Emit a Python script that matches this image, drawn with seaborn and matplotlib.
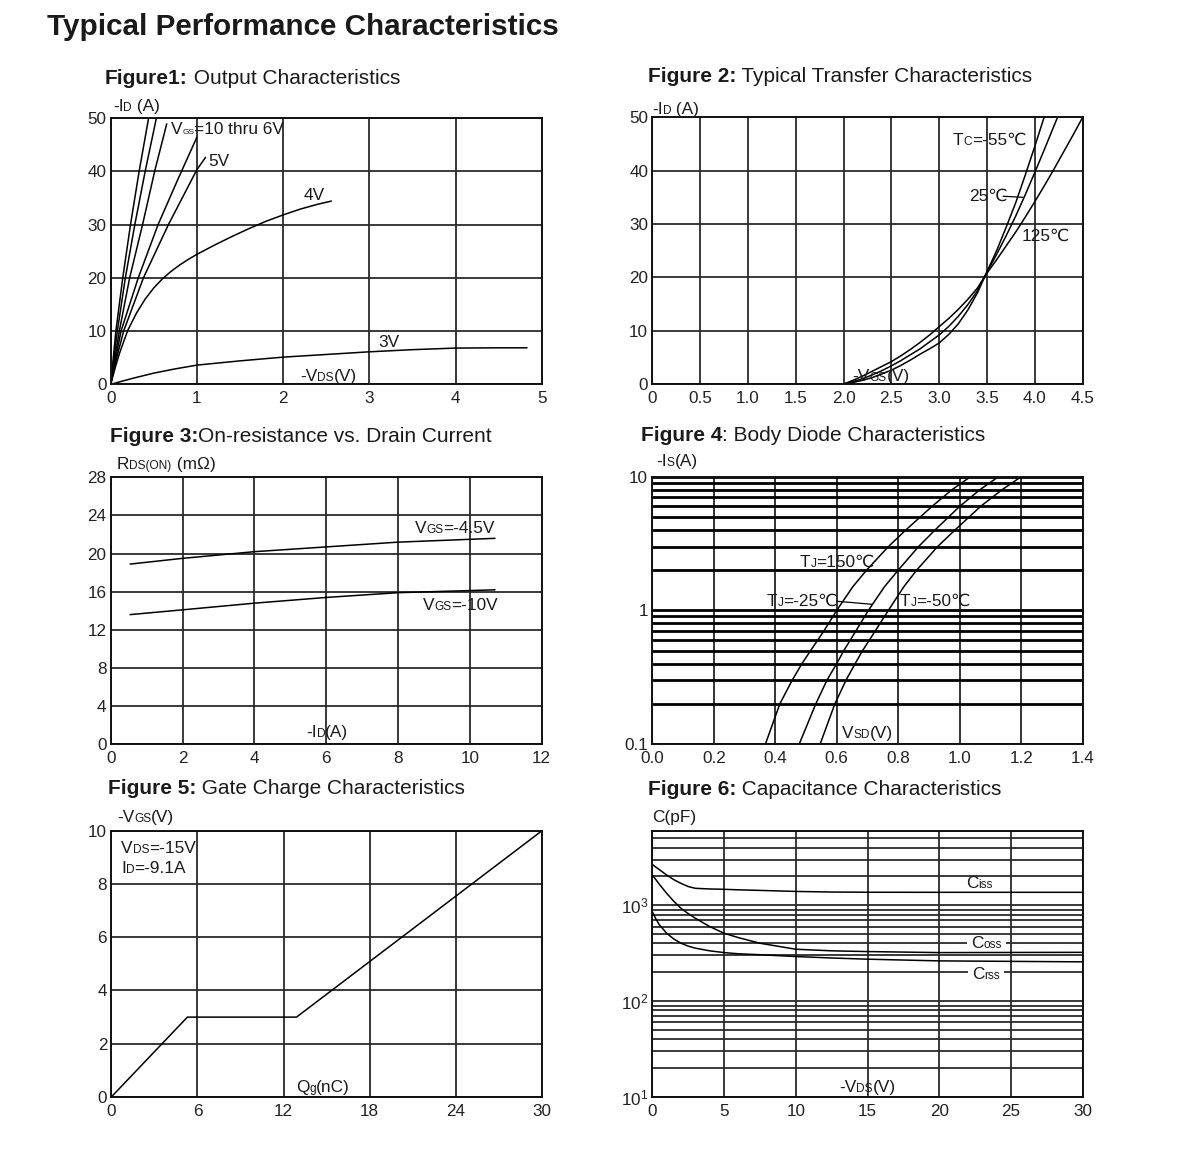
import numpy as np
import pandas as pd
import matplotlib
matplotlib.use("Agg")
import matplotlib.pyplot as plt
from matplotlib.transforms import IdentityTransform
from matplotlib.ticker import LogLocator, NullFormatter
from matplotlib.patches import Rectangle
import seaborn as sns

# ---------------- data ----------------
# Figure 1: output characteristics (-VDS, -ID) per VGS
f1_vgs = ["10V", "8V", "7V", "6V", "5V", "4V", "3V"]
f1_vds = {
    "10V": [0, 0.06, 0.14, 0.23, 0.33, 0.44],
    "8V": [0, 0.077, 0.17, 0.28, 0.40, 0.53],
    "7V": [0, 0.10, 0.22, 0.37, 0.51, 0.65],
    "6V": [0, 0.12, 0.32, 0.55, 0.78, 1.0],
    "5V": [0, 0.07, 0.15, 0.38, 0.67, 1.0, 1.1],
    "4V": [0, 0.05, 0.1, 0.15, 0.2, 0.3, 0.4, 0.5, 0.6, 0.7, 0.8, 0.9, 1.0,
           1.2, 1.4, 1.6, 1.8, 2.0, 2.2, 2.4, 2.56],
    "3V": [0, 0.25, 0.5, 0.75, 1.0, 1.5, 2.0, 2.5, 3.0, 3.5, 4.0, 4.5, 4.83],
}
f1_id = {
    "10V": [0, 10, 20, 30, 40, 50],
    "8V": [0, 10, 20, 30, 40, 50],
    "7V": [0, 10, 20, 30, 40, 48.9],
    "6V": [0, 10, 20, 30, 38.5, 46.4],
    "5V": [0, 5, 10, 20, 30, 40.3, 42.6],
    "4V": [0, 3.0, 5.7, 8.0, 10.2, 13.4, 16.0, 18.1, 19.8, 21.2, 22.4, 23.45, 24.4,
           26.1, 27.7, 29.2, 30.6, 31.8, 32.9, 33.8, 34.4],
    "3V": [0, 1.1, 2.1, 2.9, 3.6, 4.4, 5.1, 5.6, 6.1, 6.5, 6.8, 6.85, 6.85],
}

# Figure 2: transfer characteristics (-VGS, -ID) per Tc
f2_tc = ["-55", "25", "125"]
f2_vgs = {
    "-55": [0, 2.0, 2.1, 2.2, 2.3, 2.4, 2.5, 2.6, 2.7, 2.8, 2.9, 3.0, 3.1, 3.2, 3.3,
            3.4, 3.48, 3.6, 3.7, 3.8, 3.9, 4.0, 4.1],
    "25": [0, 2.0, 2.1, 2.2, 2.3, 2.4, 2.5, 2.6, 2.7, 2.8, 2.9, 3.0, 3.1, 3.2, 3.3,
           3.4, 3.48, 3.6, 3.7, 3.8, 3.9, 4.0, 4.1, 4.2, 4.26],
    "125": [0, 2.0, 2.1, 2.2, 2.3, 2.4, 2.5, 2.6, 2.7, 2.8, 2.9, 3.0, 3.1, 3.2, 3.3,
            3.4, 3.48, 3.6, 3.7, 3.8, 3.9, 4.0, 4.1, 4.2, 4.3, 4.4, 4.5],
}
f2_id = {
    "-55": [0, 0, 0.3, 0.7, 1.2, 1.9, 2.6, 3.5, 4.5, 5.6, 6.6, 7.7, 9.3, 11.3, 13.9,
            17.1, 20.3, 25.0, 29.4, 34.0, 39.2, 44.6, 50.2],
    "25": [0, 0, 0.45, 1.0, 1.7, 2.5, 3.4, 4.4, 5.5, 6.6, 7.9, 9.2, 10.8, 12.7, 14.9,
           17.5, 20.3, 24.3, 27.8, 31.5, 35.5, 39.7, 44.0, 48.4, 51.0],
    "125": [0, 0, 0.7, 1.5, 2.4, 3.3, 4.2, 5.3, 6.5, 7.8, 9.2, 10.75, 12.3, 14.0, 15.9,
            18.0, 20.3, 23.3, 25.9, 28.5, 31.3, 34.2, 37.2, 40.3, 43.5, 46.7, 50.0],
}

# Figure 3: on-resistance vs drain current
f3_id = [0.54, 2, 4, 6, 8, 10.7]
f3_r45 = [18.9, 19.5, 20.2, 20.7, 21.2, 21.6]
f3_r10 = [13.6, 14.1, 14.8, 15.4, 15.9, 16.2]

# Figure 4: body diode (VSD, -IS) per Tj
f4_tj = ["150", "-25", "-50"]
f4_is = [0.1, 0.2, 0.3, 0.4, 0.5, 0.7, 1, 1.5, 2, 3, 4, 6, 8, 10]
f4_vsd = {
    "150": [0.368, 0.415, 0.455, 0.487, 0.515, 0.558, 0.600, 0.652, 0.697, 0.768,
            0.825, 0.910, 0.975, 1.035],
    "-25": [0.478, 0.532, 0.568, 0.600, 0.623, 0.662, 0.703, 0.755, 0.800, 0.866,
            0.920, 1.000, 1.066, 1.126],
    "-50": [0.546, 0.594, 0.630, 0.660, 0.684, 0.725, 0.768, 0.818, 0.860, 0.928,
            0.985, 1.068, 1.138, 1.200],
}

# Figure 5: gate charge
f5_qg = [0, 5.3, 12.9, 30]
f5_vgs = [0, 3, 3, 10]

# Figure 6: capacitance
f6_vds = [0, 0.25, 0.5, 1, 1.5, 2, 2.5, 3, 4, 5, 6, 7.5, 10, 12.5, 15, 20, 25, 30]
f6_ciss = [2670, 2500, 2350, 2070, 1850, 1693, 1570, 1503, 1480, 1468, 1450, 1430,
           1395, 1375, 1368, 1366, 1366, 1366]
f6_coss = [2070, 1850, 1650, 1334, 1100, 930, 820, 732, 600, 511, 460, 402,
           348, 335, 329, 321, 322, 323]
f6_crss = [859, 720, 624, 511, 445, 402, 375, 357, 335, 321, 312, 305,
           292, 282, 274, 263, 260, 257]

# ---------------- styling ----------------
sns.set_theme(style="white")
FAM = ['Liberation Sans', 'DejaVu Sans', 'Noto Sans CJK SC']
plt.rcParams['font.family'] = FAM
plt.rcParams['mathtext.fontset'] = 'custom'
plt.rcParams['mathtext.rm'] = 'Liberation Sans'

W, H = 1200, 1151
fig = plt.figure(figsize=(W / 100, H / 100), dpi=100)
fig.patch.set_facecolor('white')
renderer = fig.canvas.get_renderer()

TXT = '#1a1a1a'
LBL = 12.4
SUB = 8.6
TICK = 12.3


def add_ax(l, r, t, b):
    return fig.add_axes([l / W, 1 - b / H, (r - l) / W, (b - t) / H])


def style(ax, glw=1.3, gcol='#2a2a2a'):
    for sp in ax.spines.values():
        sp.set_visible(True)
        sp.set_color('#111111')
        sp.set_linewidth(1.4)
    ax.tick_params(axis='both', which='both', length=0, labelsize=TICK, colors='#222222')
    ax.tick_params(axis='x', pad=5)
    ax.tick_params(axis='y', pad=3)
    ax.grid(True, which='major', color=gcol, lw=glw)
    ax.set_axisbelow(True)
    ax.set_xlabel('')
    ax.set_ylabel('')


def rich(x, y, segs, bg=False):
    """segments drawn on a common baseline; x, y in pixels from top-left"""
    cx = x
    top, bot = 0, 0
    for s in segs:
        txt, size = s[0], s[1]
        weight = s[2] if len(s) > 2 else 'normal'
        t = fig.text(cx, H - y, txt, transform=IdentityTransform(), fontsize=size,
                     fontweight=weight, va='baseline', ha='left', color=TXT, zorder=4)
        ext = t.get_window_extent(renderer)
        cx += ext.width
        top = max(top, ext.y1 - (H - y))
        bot = max(bot, (H - y) - ext.y0)
    if bg:
        r = Rectangle((x - 4, H - y - bot), cx - x + 8, top + bot,
                      transform=IdentityTransform(), facecolor='white',
                      edgecolor='none', zorder=3)
        fig.add_artist(r)
    return cx


LW = 1.1

# ---------------- Figure 1 ----------------
ax1 = add_ax(110.7, 541.7, 118, 384.3)
rows = []
for g in f1_vgs:
    for xv, yv in zip(f1_vds[g], f1_id[g]):
        rows.append((g, xv, yv))
df1 = pd.DataFrame(rows, columns=['VGS', 'VDS', 'ID'])
sns.lineplot(data=df1, x='VDS', y='ID', units='VGS', estimator=None, sort=False,
             color='black', lw=LW, ax=ax1)
ax1.set_xlim(0, 5)
ax1.set_ylim(0, 50)
ax1.set_xticks(range(0, 6))
ax1.set_yticks(range(0, 51, 10))
style(ax1)

# ---------------- Figure 2 ----------------
ax2 = add_ax(652.3, 1082.7, 117.3, 384)
rows = []
for g in f2_tc:
    for xv, yv in zip(f2_vgs[g], f2_id[g]):
        rows.append((g, xv, yv))
df2 = pd.DataFrame(rows, columns=['Tc', 'VGS', 'ID'])
sns.lineplot(data=df2, x='VGS', y='ID', units='Tc', estimator=None, sort=False,
             color='black', lw=LW, ax=ax2)
ax2.plot([3.667, 3.876], [35.2, 35.0], color='black', lw=0.9)
ax2.set_xlim(0, 4.5)
ax2.set_ylim(0, 50)
ax2.set_xticks(np.arange(0, 4.51, 0.5))
ax2.set_xticklabels(['0', '0.5', '1.0', '1.5', '2.0', '2.5', '3.0', '3.5', '4.0', '4.5'])
ax2.set_yticks(range(0, 51, 10))
style(ax2)

# ---------------- Figure 3 ----------------
ax3 = add_ax(110.7, 541.7, 477.3, 744.3)
df3 = pd.DataFrame({'ID': f3_id * 2, 'R': f3_r45 + f3_r10,
                    'VGS': ['-4.5V'] * len(f3_id) + ['-10V'] * len(f3_id)})
sns.lineplot(data=df3, x='ID', y='R', units='VGS', estimator=None, sort=False,
             color='black', lw=LW, ax=ax3)
ax3.set_xlim(0, 12)
ax3.set_ylim(0, 28)
ax3.set_xticks(range(0, 13, 2))
ax3.set_yticks(range(0, 29, 4))
style(ax3)

# ---------------- Figure 4 ----------------
ax4 = add_ax(652.3, 1082.7, 476.7, 744)
rows = []
for g in f4_tj:
    for xv, yv in zip(f4_vsd[g], f4_is):
        rows.append((g, xv, yv))
df4 = pd.DataFrame(rows, columns=['Tj', 'VSD', 'IS'])
sns.lineplot(data=df4, x='VSD', y='IS', units='Tj', estimator=None, sort=False,
             color='black', lw=LW, ax=ax4)
ax4.plot([0.600, 0.714], [1.17, 1.11], color='black', lw=0.9)
ax4.set_yscale('log')
ax4.set_xlim(0, 1.4)
ax4.set_ylim(0.1, 10)
ax4.set_xticks(np.arange(0, 1.41, 0.2))
ax4.set_xticklabels(['0.0', '0.2', '0.4', '0.6', '0.8', '1.0', '1.2', '1.4'])
ax4.set_yticks([0.1, 1, 10])
ax4.set_yticklabels(['0.1', '1', '10'])
ax4.yaxis.set_minor_locator(LogLocator(base=10, subs=np.arange(2, 10)))
ax4.yaxis.set_minor_formatter(NullFormatter())
style(ax4)
ax4.grid(False)
ax4.grid(True, axis='x', which='major', color='#333333', lw=1.4)
ax4.grid(True, axis='y', which='both', color='#000000', lw=2.0)

# ---------------- Figure 5 ----------------
ax5 = add_ax(111.3, 542, 830.7, 1097)
sns.lineplot(x=f5_qg, y=f5_vgs, estimator=None, sort=False, color='black', lw=LW, ax=ax5)
ax5.set_xlim(0, 30)
ax5.set_ylim(0, 10)
ax5.set_xticks(range(0, 31, 6))
ax5.set_yticks(range(0, 11, 2))
style(ax5)

# ---------------- Figure 6 ----------------
ax6 = add_ax(652.3, 1082.7, 830.7, 1097)
n6 = len(f6_vds)
df6 = pd.DataFrame({'VDS': f6_vds * 3, 'C': f6_ciss + f6_coss + f6_crss,
                    'kind': ['Ciss'] * n6 + ['Coss'] * n6 + ['Crss'] * n6})
sns.lineplot(data=df6, x='VDS', y='C', units='kind', estimator=None, sort=False,
             color='black', lw=LW, ax=ax6)
ax6.set_yscale('log')
ax6.set_xlim(0, 30)
ax6.set_ylim(10, 6000)
ax6.set_xticks(range(0, 31, 5))
ax6.set_yticks([10, 100, 1000])
ax6.set_yticklabels([r'$\mathregular{10^{1}}$', r'$\mathregular{10^{2}}$', r'$\mathregular{10^{3}}$'])
ax6.yaxis.set_minor_locator(LogLocator(base=10, subs=np.arange(2, 10)))
ax6.yaxis.set_minor_formatter(NullFormatter())
style(ax6)
ax6.grid(True, axis='y', which='minor', color='#2a2a2a', lw=1.3)

# ---------------- texts ----------------
rich(47, 35, [("Typical Performance Characteristics", 21.3, 'bold')])

TS = 15.0
rich(105, 83.5, [("Figure1:", TS, 'bold'), (" Output Characteristics", TS)])
rich(648, 81.7, [("Figure 2:", TS, 'bold'), (" Typical Transfer Characteristics", TS)])
rich(110, 441.7, [("Figure 3:", TS, 'bold'), ("On-resistance vs. Drain Current", TS)])
rich(641, 441, [("Figure 4", TS, 'bold'), (": Body Diode Characteristics", TS)])
rich(108, 794, [("Figure 5:", TS, 'bold'), (" Gate Charge Characteristics", TS)])
rich(648, 795, [("Figure 6:", TS, 'bold'), (" Capacitance Characteristics", TS)])

# axis labels
rich(113, 111, [("-I", LBL), ("D", SUB), (" (A)", LBL)])
rich(652, 114, [("-I", LBL), ("D", SUB), (" (A)", LBL)])
rich(117, 469, [("R", LBL), ("DS(ON)", SUB), (" (mΩ)", LBL)])
rich(656, 466, [("-I", LBL), ("S", SUB), ("(A)", LBL)])
rich(117, 822, [("-V", LBL), ("GS", SUB), ("(V)", LBL)])
rich(652, 822, [("C(pF)", LBL)])

rich(300, 381, [("-V", LBL), ("DS", SUB), ("(V)", LBL)])
rich(852, 381, [("-V", LBL), ("GS", SUB), ("(V)", LBL)])
rich(306, 737, [("-I", LBL), ("D", SUB), ("(A)", LBL)])
rich(842, 738, [("V", LBL), ("SD", SUB), ("(V)", LBL)])
rich(296, 1092, [("Q", LBL), ("g", SUB), ("(nC)", LBL)])
rich(839, 1092, [("-V", LBL), ("DS", SUB), ("(V)", LBL)])

# curve annotations
rich(171, 134.5, [("V", LBL), ("GS", 6.0), ("=10 thru 6V", LBL)])
rich(208, 166, [("5V", LBL)])
rich(304, 200, [("4V", LBL)])
rich(378, 347, [("3V", LBL)])

rich(953, 145, [("T", LBL), ("C", SUB), ("=-55℃", LBL)])
rich(969, 201, [("25℃", LBL)])
rich(1022, 241, [("125℃", LBL)])

rich(415, 533, [("V", LBL), ("GS", SUB), ("=-4.5V", LBL)])
rich(423, 610, [("V", LBL), ("GS", SUB), ("=-10V", LBL)])

rich(800, 566.7, [("T", LBL), ("J", SUB), ("=150℃", LBL)])
rich(767, 606, [("T", LBL), ("J", SUB), ("=-25℃", LBL)])
rich(900, 606, [("T", LBL), ("J", SUB), ("=-50℃", LBL)])

rich(121, 852.7, [("V", LBL), ("DS", SUB), ("=-15V", LBL)])
rich(121, 872.7, [("I", LBL), ("D", SUB), ("=-9.1A", LBL)])

rich(966, 888, [("C", LBL), ("iss", SUB)])
rich(971, 948, [("C", LBL), ("oss", SUB)], bg=True)
rich(972, 979, [("C", LBL), ("rss", SUB)], bg=True)

fig.savefig("out.png", dpi=100, facecolor='white')
